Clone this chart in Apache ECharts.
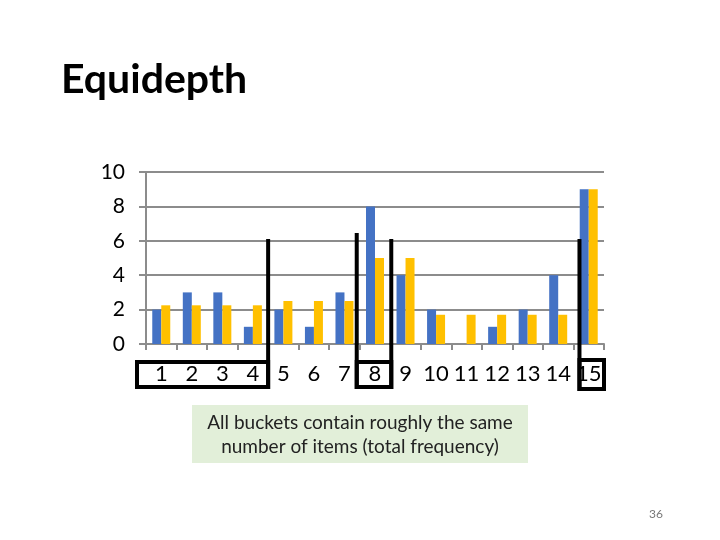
<!DOCTYPE html>
<html>
<head>
<meta charset="utf-8">
<script src="https://cdn.jsdelivr.net/npm/echarts@6/dist/echarts.min.js"></script>
<style>
  html, body { margin: 0; padding: 0; background: #fff; }
  #chart { width: 720px; height: 540px; }
</style>
</head>
<body>
<div id="chart"></div>
<script>
// data
const categories = ["1", "2", "3", "4", "5", "6", "7", "8", "9", "10", "11", "12", "13", "14", "15"];
const frequency = [2, 3, 3, 1, 2, 1, 3, 8, 4, 2, 0, 1, 2, 4, 9];
const bucketAvg = [2.25, 2.25, 2.25, 2.25, 2.5, 2.5, 2.5, 5, 5, 1.7, 1.7, 1.7, 1.7, 1.7, 9];
const yTicks = [0, 2, 4, 6, 8, 10];
// bucket brackets drawn over the chart (first / last category of each)
const bucketMarks = [[1, 4], [8, 8], [15, 15]];

const FONT = "Lato, 'Open Sans', sans-serif";
const GRID_GRAY = "#8c8c8c";

let myChart = echarts.init(document.getElementById("chart"));

let option = {
  animation: false,
  title: {
    text: "Equidepth",
    left: 56,
    top: 54,
    textStyle: { fontFamily: FONT, fontSize: 41, fontWeight: "bold", color: "#000" }
  },
  grid: { left: 146, top: 172, width: 458, height: 172 },
  xAxis: {
    type: "category",
    data: categories,
    axisLine: { lineStyle: { color: GRID_GRAY, width: 2 } },
    axisTick: { show: true, length: 6, lineStyle: { color: GRID_GRAY, width: 2 } },
    axisLabel: { color: "#000", fontSize: 22, fontFamily: FONT, margin: 19, interval: 0 }
  },
  yAxis: {
    type: "value",
    min: yTicks[0],
    max: yTicks[yTicks.length - 1],
    interval: yTicks[1] - yTicks[0],
    axisLine: { show: true, lineStyle: { color: GRID_GRAY, width: 2 } },
    axisTick: { show: true, length: 7, lineStyle: { color: GRID_GRAY, width: 2 } },
    axisLabel: { color: "#000", fontSize: 21, fontFamily: FONT, margin: 21 },
    splitLine: { lineStyle: { color: GRID_GRAY, width: 2 } }
  },
  series: [
    {
      name: "frequency",
      type: "bar",
      data: frequency,
      barWidth: 9,
      barGap: "0%",
      itemStyle: { color: "#4472c4" }
    },
    {
      name: "bucket",
      type: "bar",
      data: bucketAvg,
      barWidth: 9,
      itemStyle: { color: "#ffc000" }
    }
  ]
};

myChart.setOption(option);

// brackets: boxes round the bucket labels plus the tall bucket edges
(function () {
  let c0 = myChart.convertToPixel({ xAxisIndex: 0 }, 0);
  let c1 = myChart.convertToPixel({ xAxisIndex: 0 }, 1);
  let half = (c1 - c0) / 2;
  let edge = function (k) { return c0 - half + k * half * 2; }; // k-th boundary
  let yOf = function (v) { return myChart.convertToPixel({ yAxisIndex: 0 }, v); };
  let axisY = yOf(0);

  // hand drawn offsets and heights of each bracket
  let style = [
    { dl: -9, dr: 0, top: 18, bottom: 43, upL: null, upR: 6.1 },
    { dl: -3, dr: 1, top: 18, bottom: 43, upL: 6.45, upR: 6.1 },
    { dl: 6, dr: 0, top: 16, bottom: 45, upL: 6.1, upR: null }
  ];

  let elements = [];
  bucketMarks.forEach(function (b, i) {
    let s = style[i];
    let l = edge(b[0] - 1) + s.dl;
    let r = edge(b[1]) + s.dr;
    let t = axisY + s.top;
    let btm = axisY + s.bottom;
    elements.push({
      type: "rect",
      shape: { x: l, y: t, width: r - l, height: btm - t },
      style: { fill: null, stroke: "#000", lineWidth: 4 },
      z: 100
    });
    if (s.upL !== null) {
      elements.push({
        type: "line",
        shape: { x1: l, y1: yOf(s.upL), x2: l, y2: btm + 2 },
        style: { stroke: "#000", lineWidth: 4 },
        z: 100
      });
    }
    if (s.upR !== null) {
      elements.push({
        type: "line",
        shape: { x1: r, y1: yOf(s.upR), x2: r, y2: btm + 2 },
        style: { stroke: "#000", lineWidth: 4 },
        z: 100
      });
    }
  });

  // note box under the chart
  elements.push({
    type: "rect",
    shape: { x: 192, y: 405, width: 336, height: 58 },
    style: { fill: "#e2efd9" },
    z: 90
  });
  elements.push({
    type: "text",
    x: 360,
    y: 435,
    style: {
      text: "All buckets contain roughly the same\nnumber of items (total frequency)",
      fontFamily: FONT,
      fontSize: 19,
      lineHeight: 24,
      fill: "#222",
      align: "center",
      verticalAlign: "middle"
    },
    z: 91
  });
  // slide number
  elements.push({
    type: "text",
    x: 656,
    y: 514,
    style: { text: "36", fontFamily: FONT, fontSize: 12, fill: "#777", align: "center", verticalAlign: "middle" },
    z: 91
  });

  myChart.setOption({ graphic: elements });
})();

window.addEventListener("resize", function () {
  myChart.resize();
});
</script>
</body>
</html>
